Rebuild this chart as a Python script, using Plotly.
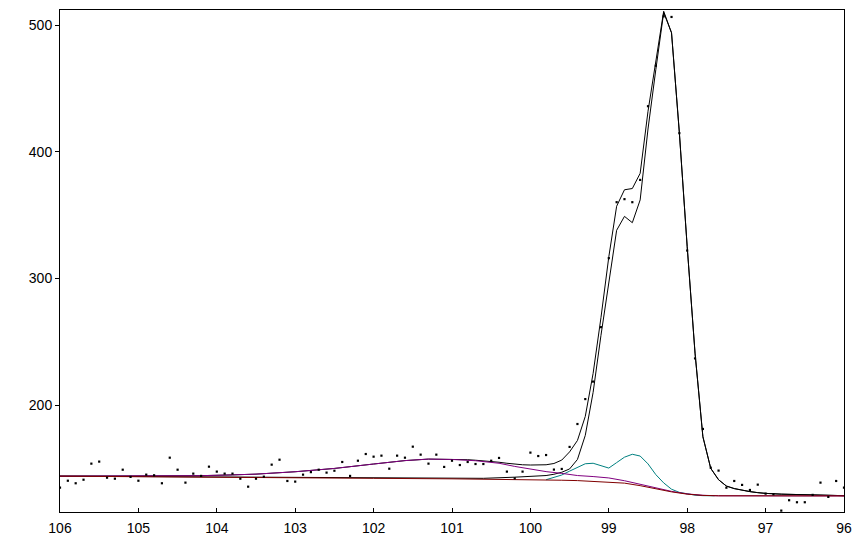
import plotly.graph_objects as go

# measured points (binding energy, counts)
energy = [106.0, 105.9, 105.8, 105.7, 105.6, 105.5, 105.4, 105.3, 105.2, 105.1,
          105.0, 104.9, 104.8, 104.7, 104.6, 104.5, 104.4, 104.3, 104.2, 104.1,
          104.0, 103.9, 103.8, 103.7, 103.6, 103.5, 103.4, 103.3, 103.2, 103.1,
          103.0, 102.9, 102.8, 102.7, 102.6, 102.5, 102.4, 102.3, 102.2, 102.1,
          102.0, 101.9, 101.8, 101.7, 101.6, 101.5, 101.4, 101.3, 101.2, 101.1,
          101.0, 100.9, 100.8, 100.7, 100.6, 100.5, 100.4, 100.3, 100.2, 100.1,
          100.0, 99.9, 99.8, 99.7, 99.6, 99.5, 99.4, 99.3, 99.2, 99.1,
          99.0, 98.9, 98.8, 98.7, 98.6, 98.5, 98.4, 98.3, 98.2, 98.1,
          98.0, 97.9, 97.8, 97.7, 97.6, 97.5, 97.4, 97.3, 97.2, 97.1,
          97.0, 96.9, 96.8, 96.7, 96.6, 96.5, 96.4, 96.3, 96.2, 96.1, 96.0]
counts = [134.7, 140.2, 138.2, 141.0, 153.7, 155.3, 142.6, 141.8, 148.9, 143.2,
          140.2, 145.0, 144.5, 138.2, 158.4, 148.9, 138.7, 145.8, 144.0, 151.3,
          147.4, 145.8, 145.8, 141.8, 135.5, 141.8, 143.4, 152.9, 156.8, 140.0,
          139.5, 145.0, 147.0, 148.9, 146.6, 148.1, 155.0, 144.0, 156.0, 161.3,
          159.2, 160.0, 149.7, 160.0, 158.4, 167.1, 160.8, 153.7, 160.8, 151.1,
          156.0, 152.6, 155.0, 153.4, 153.4, 156.0, 158.2, 147.4, 142.1, 147.4,
          162.4, 159.7, 160.5, 149.0, 149.5, 166.9, 185.0, 204.7, 218.5, 261.5,
          316.0, 360.2, 362.6, 360.2, 377.8, 436.0, 468.0, 507.0, 506.5, 414.7,
          322.0, 236.8, 181.1, 150.5, 148.2, 134.7, 140.0, 136.9, 132.9, 137.1,
          130.0, 129.5, 116.6, 124.8, 123.2, 123.2, 129.0, 138.7, 127.4, 140.0, 134.7]

# fit envelope (black, outer)
env_x = [106.0, 104.6, 104.2, 103.8, 103.5, 103.0, 102.5, 102.0, 101.6, 101.3,
         101.0, 100.9, 100.8, 100.7, 100.6, 100.5, 100.4, 100.3, 100.2, 100.1,
         100.0, 99.9, 99.8, 99.7, 99.6, 99.5, 99.4, 99.3, 99.2, 99.1,
         99.0, 98.9, 98.8, 98.7, 98.6, 98.5, 98.4, 98.3, 98.2, 98.1,
         98.0, 97.9, 97.8, 97.7, 97.6, 97.5, 97.4, 97.3, 97.2, 97.1,
         97.0, 96.8, 96.5, 96.0]
env_y = [143.8, 143.8, 144.2, 144.8, 145.4, 147.3, 149.9, 153.4, 156.1, 157.3,
         157.2, 157.0, 156.8, 156.4, 156.0, 155.5, 154.8, 154.0, 153.3, 152.8,
         152.6, 152.6, 152.8, 153.8, 156.5, 163.0, 172.0, 191.0, 225.0, 269.0,
         317.0, 357.0, 370.0, 371.0, 383.0, 432.0, 472.0, 511.0, 494.0, 415.0,
         325.0, 241.0, 175.0, 150.0, 141.0, 136.0, 134.0, 132.6, 131.6, 130.8,
         130.2, 129.6, 129.0, 128.4]

# main component + background (black, inner)
main_x = [106.0, 104.0, 103.0, 102.0, 101.0, 100.6, 100.2, 100.0, 99.8, 99.7,
          99.6, 99.5, 99.4, 99.3, 99.2, 99.1, 99.0, 98.9, 98.8, 98.7,
          98.6, 98.5, 98.4, 98.3, 98.2, 98.1, 98.0, 97.9, 97.8, 97.7,
          97.6, 97.5, 97.4, 97.3, 97.2, 97.1, 97.0, 96.8, 96.5, 96.0]
main_y = [143.8, 143.2, 142.6, 142.1, 141.9, 142.1, 143.0, 143.5, 144.3, 145.3,
          146.9, 149.5, 157.0, 176.0, 210.0, 255.0, 297.0, 338.0, 349.0, 344.0,
          362.0, 418.0, 465.0, 510.0, 494.0, 415.0, 325.0, 241.0, 175.0, 150.0,
          141.0, 136.0, 134.0, 132.6, 131.6, 130.8, 130.2, 129.6, 129.0, 128.4]

# small component + background (teal)
teal_x = [99.8, 99.7, 99.6, 99.5, 99.4, 99.3, 99.2, 99.1, 99.0, 98.9,
          98.8, 98.7, 98.6, 98.5, 98.4, 98.3, 98.2, 98.1, 98.0, 97.9,
          97.8, 97.65]
teal_y = [141.0, 142.7, 144.7, 147.8, 151.0, 153.6, 154.0, 151.8, 150.2, 154.5,
          158.8, 161.1, 159.7, 153.5, 145.0, 138.5, 133.5, 131.0, 129.6, 128.8,
          128.4, 128.3]

# broad component + background (purple)
purple_x = [106.0, 104.6, 104.2, 103.8, 103.5, 103.0, 102.5, 102.0, 101.6, 101.3,
            101.0, 100.7, 100.4, 100.2, 100.0, 99.8, 99.6, 99.4, 99.2, 99.0,
            98.8, 98.6, 98.4, 98.2, 98.0, 97.8, 97.6, 96.0]
purple_y = [143.8, 143.8, 144.2, 144.8, 145.4, 147.3, 149.9, 153.4, 156.1, 157.3,
            157.0, 156.0, 154.0, 151.5, 149.5, 147.4, 146.0, 144.3, 143.5, 142.4,
            140.2, 137.4, 134.3, 131.8, 129.8, 128.7, 128.3, 128.2]

# background (maroon)
bg_x = [106.0, 104.0, 103.0, 102.0, 101.0, 100.5, 100.0, 99.8, 99.6, 99.4,
        99.2, 99.0, 98.8, 98.6, 98.4, 98.2, 98.0, 97.8, 97.6, 96.0]
bg_y = [143.8, 143.2, 142.6, 142.1, 141.7, 141.5, 141.2, 140.9, 140.6, 140.3,
        139.8, 139.3, 138.3, 136.3, 133.6, 131.4, 129.6, 128.6, 128.3, 128.2]

x_ticks = [106, 105, 104, 103, 102, 101, 100, 99, 98, 97, 96]
y_ticks = [200, 300, 400, 500]

fig = go.Figure()
line_w = 1
fig.add_trace(go.Scatter(x=env_x, y=env_y, mode="lines",
                         line=dict(color="#000000", width=line_w)))
fig.add_trace(go.Scatter(x=main_x, y=main_y, mode="lines",
                         line=dict(color="#000000", width=line_w)))
fig.add_trace(go.Scatter(x=teal_x, y=teal_y, mode="lines",
                         line=dict(color="#008080", width=line_w)))
fig.add_trace(go.Scatter(x=purple_x, y=purple_y, mode="lines",
                         line=dict(color="#800080", width=line_w)))
fig.add_trace(go.Scatter(x=bg_x, y=bg_y, mode="lines",
                         line=dict(color="#800000", width=line_w)))
fig.add_trace(go.Scatter(x=energy, y=counts, mode="markers",
                         marker=dict(color="#000000", size=2.2, symbol="square",
                                     line=dict(width=0))))

fig.update_layout(
    width=853, height=540, autosize=False,
    margin=dict(l=60, r=9, t=10, b=28),
    paper_bgcolor="white", plot_bgcolor="white",
    showlegend=False,
    font=dict(family="Liberation Sans, Arial, sans-serif", size=14, color="#000000"),
)
fig.update_xaxes(range=[106, 96], tickvals=x_ticks, ticktext=[str(v) for v in x_ticks],
                 ticks="inside", ticklen=4, tickcolor="black", showgrid=False,
                 zeroline=False, showline=True, linecolor="black", linewidth=1,
                 mirror=True, ticklabelstandoff=3, ticklabeloverflow="allow",
                 automargin=False)
fig.update_yaxes(range=[115.5, 512], tickvals=y_ticks, ticktext=[str(v) for v in y_ticks],
                 ticks="outside", ticklen=4, tickcolor="black", showgrid=False,
                 zeroline=False, showline=True, linecolor="black", linewidth=1,
                 mirror=True, ticklabelstandoff=0, automargin=False)

post = ("document.documentElement.style.margin='0';"
        "document.body.style.margin='0';document.body.style.padding='0';"
        "document.body.style.overflow='hidden';"
        "var gd=document.getElementById('{plot_id}');"
        "Plotly.relayout(gd,{width:853,height:540});")
fig.write_html("out.html", config={"displayModeBar": False, "responsive": False},
               post_script=post)
